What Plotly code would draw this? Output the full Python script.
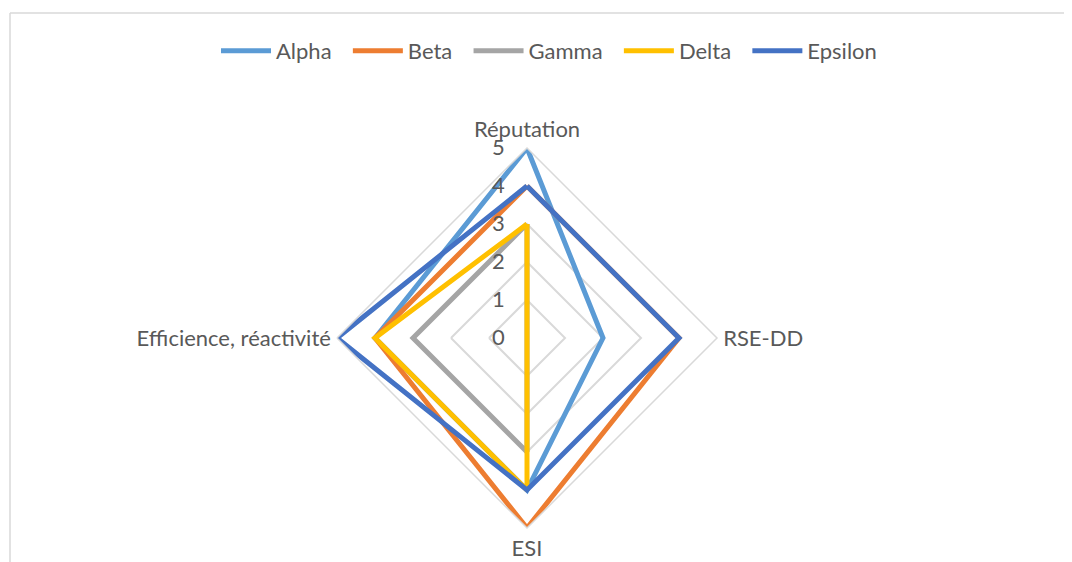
import plotly.graph_objects as go

categories = ["Réputation", "RSE-DD", "ESI", "Efficience, réactivité"]
series_names = ["Alpha", "Beta", "Gamma", "Delta", "Epsilon"]
alpha = [5, 2, 4, 4]
beta = [4, 4, 5, 4]
gamma = [3, 0, 3, 3]
delta = [3, 0, 4, 4]
epsilon = [4, 4, 4, 5]
radial_ticks = [0, 1, 2, 3, 4, 5]

colors = ["#5b9bd5", "#ed7d31", "#a5a5a5", "#ffc000", "#4472c4"]
font_color = "#595959"
grid_color = "#d9d9d9"

# page has an 8px body margin, so the figure is drawn from (8, 8)
W, H = 1064, 554


def px_x(x):
    return (x - 8) / W


def px_y(y):
    return 1 - (y - 8) / H


fig = go.Figure()

for name, values, color in zip(series_names, [alpha, beta, gamma, delta, epsilon], colors):
    # close the polygon by repeating the first point
    fig.add_trace(go.Scatterpolar(
        r=values + values[:1],
        theta=categories + categories[:1],
        mode="lines",
        name=name + "\u00a0\u00a0",  # a little extra room between legend entries
        line=dict(color=color, width=5),
    ))

# chart area border (left and top edges visible)
fig.add_shape(type="line", xref="paper", yref="paper", x0=px_x(10), x1=1, y0=px_y(13), y1=px_y(13),
              line=dict(color=grid_color, width=1.5))
fig.add_shape(type="line", xref="paper", yref="paper", x0=px_x(10), x1=px_x(10), y0=0, y1=px_y(13),
              line=dict(color=grid_color, width=1.5))

fig.update_layout(
    width=W,
    height=H,
    margin=dict(l=0, r=0, t=0, b=0),
    paper_bgcolor="white",
    font=dict(family="Lato, 'Noto Sans', sans-serif", size=22, color=font_color),
    showlegend=True,
    legend=dict(orientation="h", x=px_x(555), xanchor="center", y=px_y(51), yanchor="middle",
                font=dict(size=22, color=font_color), itemwidth=50),
    polar=dict(
        domain=dict(x=[px_x(337), px_x(717)], y=[px_y(528), px_y(148)]),
        bgcolor="white",
        gridshape="linear",
        radialaxis=dict(
            range=[0, 5],
            tickvals=radial_ticks,
            angle=90,
            tickangle=90,
            side="counterclockwise",
            showline=False,
            ticks="outside",
            ticklen=14,
            tickcolor="rgba(0,0,0,0)",
            gridcolor=grid_color,
            gridwidth=1.5,
            tickfont=dict(size=22, color=font_color),
        ),
        angularaxis=dict(
            rotation=90,
            direction="clockwise",
            showgrid=False,
            showline=True,
            linecolor=grid_color,
            linewidth=1.5,
            ticks="outside",
            ticklen=1,
            tickcolor="rgba(0,0,0,0)",
            tickfont=dict(size=22, color=font_color),
        ),
    ),
)

fig.write_html("out.html")
